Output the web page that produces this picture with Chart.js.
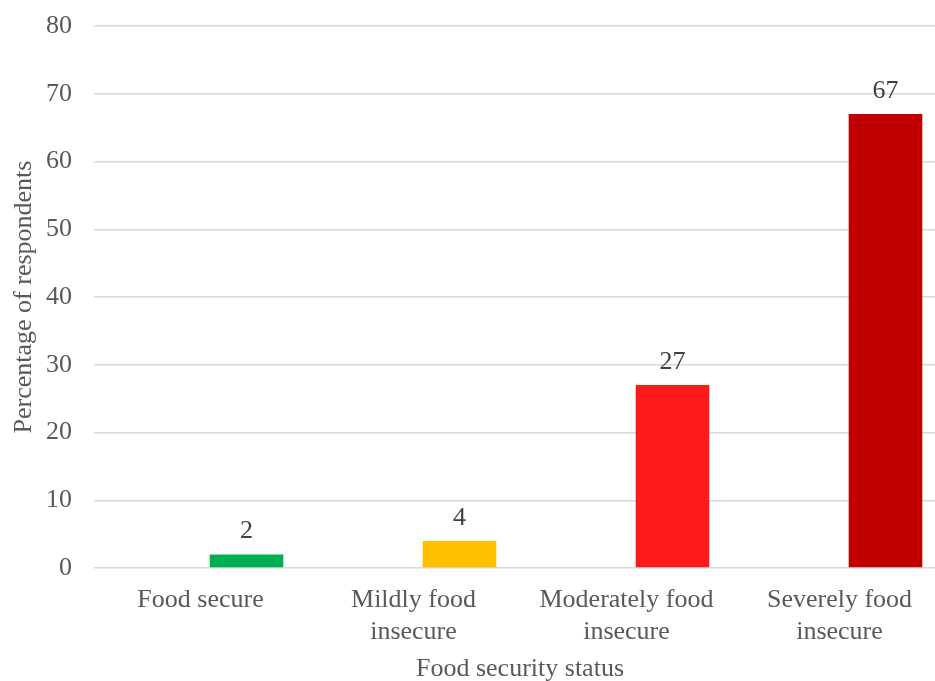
<!DOCTYPE html>
<html>
<head>
<meta charset="utf-8">
<script src="https://cdn.jsdelivr.net/npm/chart.js@4.4.1/dist/chart.umd.min.js"></script>
<style>
  html, body { margin: 0; padding: 0; background: #fff; overflow: hidden; }
  #wrap { width: 946px; height: 681px; position: relative; }
</style>
</head>
<body>
<div id="wrap"><canvas id="chart" width="946" height="681"></canvas></div>
<script>
// Food security status of respondents (%)
const categories = [
  ['Food secure'],
  ['Mildly food', 'insecure'],
  ['Moderately food', 'insecure'],
  ['Severely food', 'insecure']
];
const percentages = [2, 4, 27, 67];
const barColors = ['#00B050', '#FFC000', '#FF1A1A', '#C00000'];
const yTicks = [0, 10, 20, 30, 40, 50, 60, 70, 80];

const serif = '"Liberation Serif", "Times New Roman", serif';
const FONT_SIZE = 26;

// Writes each bar's value above it
const valueLabels = {
  id: 'valueLabels',
  afterDatasetsDraw(chart) {
    const ctx = chart.ctx;
    const meta = chart.getDatasetMeta(1);
    ctx.save();
    ctx.font = FONT_SIZE + 'px ' + serif;
    ctx.fillStyle = '#404040';
    ctx.textAlign = 'center';
    ctx.textBaseline = 'alphabetic';
    meta.data.forEach((bar, i) => {
      ctx.fillText(String(percentages[i]), bar.x, bar.y - 16);
    });
    ctx.restore();
  }
};

new Chart(document.getElementById('chart'), {
  type: 'bar',
  data: {
    labels: categories,
    datasets: [
      { label: '', data: categories.map(() => null), backgroundColor: 'transparent' },
      { label: 'Percentage', data: percentages, backgroundColor: barColors }
    ]
  },
  options: {
    responsive: false,
    animation: false,
    devicePixelRatio: 1,
    layout: { padding: { top: 26, left: 9, right: 0, bottom: 0 } },
    plugins: { legend: { display: false }, tooltip: { enabled: false } },
    datasets: { bar: { categoryPercentage: 0.864, barPercentage: 0.80 } },
    scales: {
      x: {
        grid: { display: false, drawTicks: false },
        border: { display: false },
        ticks: {
          color: '#595959',
          font: { family: serif, size: FONT_SIZE, lineHeight: 1.2 },
          padding: 17,
          maxRotation: 0,
          autoSkip: false
        },
        title: {
          display: true,
          text: 'Food security status',
          color: '#595959',
          font: { family: serif, size: FONT_SIZE },
          padding: { top: 0, bottom: -4 }
        },
        afterFit(scale) { scale.height = 113; scale.paddingLeft = 0; scale.paddingRight = 0; }
      },
      y: {
        min: 0,
        max: 80,
        afterBuildTicks(scale) { scale.ticks = yTicks.map(v => ({ value: v })); },
        grid: { color: '#D9D9D9', lineWidth: 1.5, drawTicks: false },
        border: { display: false },
        ticks: {
          color: '#595959',
          font: { family: serif, size: FONT_SIZE },
          padding: 22
        },
        title: {
          display: true,
          text: 'Percentage of respondents',
          color: '#595959',
          font: { family: serif, size: FONT_SIZE },
          padding: { top: 0, bottom: 0 }
        },
        afterFit(scale) { scale.width = 85; scale.paddingTop = 0; scale.paddingBottom = 0; }
      }
    }
  },
  plugins: [valueLabels]
});
</script>
</body>
</html>
